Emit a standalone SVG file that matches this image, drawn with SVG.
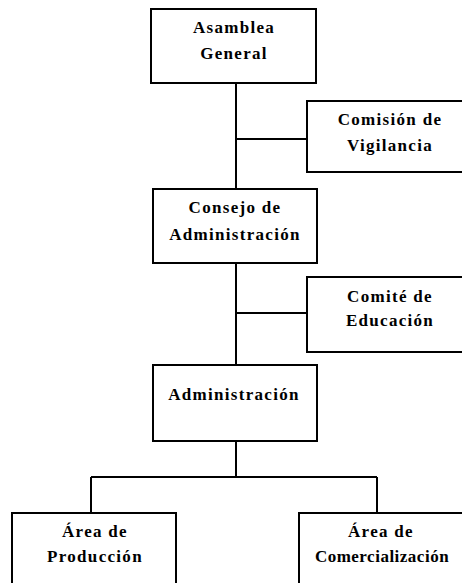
<svg xmlns="http://www.w3.org/2000/svg" width="462" height="583" viewBox="0 0 462 583">
<style>
.box{fill:#fff;stroke:#000;stroke-width:2}
.ln{stroke:#000;stroke-width:2;fill:none}
text{font-family:"Liberation Serif","Times New Roman",serif;font-weight:bold;font-size:17px;letter-spacing:1.3px;text-anchor:middle;fill:#000}
.tight{letter-spacing:0.5px}
</style>
<rect width="462" height="583" fill="#fff"/>
<g id="connectors">
<path class="ln" d="M236 83V189M236 139H307M236 263V365M236 313H307M236 441V477M91 477H377M91 477V513M377 477V513"/>
</g>
<g id="asamblea"><rect class="box" x="151" y="9" width="165" height="74"/><text x="234" y="33">Asamblea</text><text x="234" y="59">General</text></g>
<g id="vigilancia"><rect class="box" x="307" y="101" width="165" height="71"/><text x="390" y="125">Comisión de</text><text x="390" y="151">Vigilancia</text></g>
<g id="consejo"><rect class="box" x="153" y="189" width="164" height="74"/><text x="235" y="213">Consejo de</text><text x="235" y="240">Administración</text></g>
<g id="educacion"><rect class="box" x="307" y="277" width="165" height="75"/><text x="390" y="302">Comité de</text><text x="390" y="326">Educación</text></g>
<g id="administracion"><rect class="box" x="153" y="365" width="164" height="76"/><text x="234" y="400">Administración</text></g>
<g id="produccion"><rect class="box" x="12" y="513" width="164" height="80"/><text x="95" y="537">Área de</text><text x="95" y="562">Producción</text></g>
<g id="comercializacion"><rect class="box" x="299" y="513" width="164" height="80"/><text x="381" y="537">Área de</text><text class="tight" x="382" y="562">Comercialización</text></g>
</svg>
